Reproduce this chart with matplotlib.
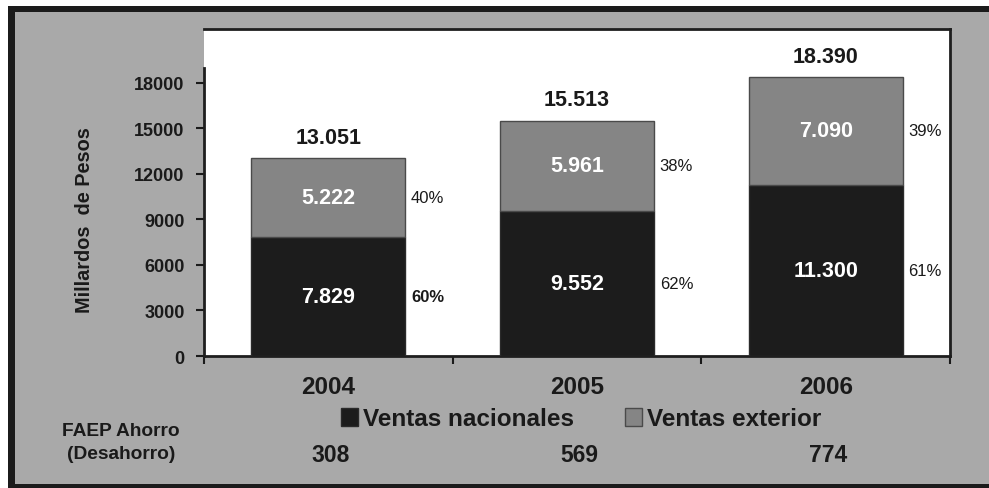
import matplotlib
matplotlib.use("Agg")
import matplotlib.pyplot as plt
from matplotlib.patches import Rectangle
from matplotlib.transforms import blended_transform_factory

# Data (miles de millones de pesos)
years = ["2004", "2005", "2006"]
ventas_nacionales = [7829, 9552, 11300]
ventas_exterior = [5222, 5961, 7090]
faep = ["308", "569", "774"]
y_ticks = [0, 3000, 6000, 9000, 12000, 15000, 18000]

plt.rcParams["font.family"] = ["Liberation Sans", "DejaVu Sans"]

W, H = 989, 489
fig = plt.figure(figsize=(W / 100, H / 100), dpi=100)
fig.patch.set_facecolor("white")

def fx(px):
    return px / W

def fy(py):
    return 1 - py / H

# Outer frame and grey panel
fig.add_artist(Rectangle((fx(8), 0), 1, fy(7), transform=fig.transFigure,
                         facecolor="#1b1b1b", edgecolor="none", zorder=0))
fig.add_artist(Rectangle((fx(15), fy(485)), 1, fy(13) - fy(485), transform=fig.transFigure,
                         facecolor="#a9a9a9", edgecolor="none", zorder=0))

ax = fig.add_axes([fx(204), fy(357), fx(950) - fx(204), fy(30) - fy(357)])
ax.set_facecolor("white")

dark = "#1c1c1c"
grey = "#858585"
txt = "#1a1a1a"
x = list(range(len(years)))
width = 0.62

b1 = ax.bar(x, ventas_nacionales, width, color=dark, edgecolor="#2a2a2a", linewidth=1,
            label="Ventas nacionales", zorder=3)
b2 = ax.bar(x, ventas_exterior, width, bottom=ventas_nacionales, color=grey,
            edgecolor="#4a4a4a", linewidth=1, label="Ventas exterior", zorder=3)

def miles(v):
    return f"{v:,}".replace(",", ".")

for i in x:
    nac = ventas_nacionales[i]
    ext = ventas_exterior[i]
    tot = nac + ext
    # values inside the segments
    ax.text(i, nac / 2, miles(nac), ha="center", va="center", color="white",
            fontsize=15.5, fontweight="bold", zorder=4)
    ax.text(i, nac + ext / 2, miles(ext), ha="center", va="center", color="white",
            fontsize=15.5, fontweight="bold", zorder=4)
    # totals above the bars
    ax.annotate(miles(tot), (i, tot), xytext=(0, 15), textcoords="offset points",
                ha="center", va="center", fontsize=15.5, fontweight="bold", color=txt)
    # shares to the right of each segment
    ax.annotate(f"{round(100 * nac / tot)}%", (i + width / 2, nac / 2), xytext=(4, 0),
                textcoords="offset points", ha="left", va="center", fontsize=12,
                fontweight="bold" if i == 0 else "normal", color=txt)
    ax.annotate(f"{round(100 * ext / tot)}%", (i + width / 2, nac + ext / 2), xytext=(4, 0),
                textcoords="offset points", ha="left", va="center", fontsize=12, color=txt)

ax.set_xlim(-0.5, 2.5)
ax.set_ylim(0, 21560)

# y axis
ax.set_yticks(y_ticks)
ax.set_yticklabels([str(t) for t in y_ticks])
ax.tick_params(axis="y", direction="out", length=6, width=1.5, pad=8,
               labelsize=13, labelcolor=txt, colors=txt)
for lab in ax.get_yticklabels():
    lab.set_fontweight("bold")

# x axis: ticks between categories, labels at centres
ax.set_xticks([-0.5, 0.5, 1.5, 2.5])
ax.set_xticklabels([])
ax.set_xticks(x, minor=True)
ax.set_xticklabels(years, minor=True)
ax.tick_params(axis="x", which="major", direction="out", length=6, width=1.5, colors=txt)
ax.tick_params(axis="x", which="minor", length=0, pad=14, labelsize=17.5, labelcolor=txt)
for lab in ax.get_xticklabels(minor=True):
    lab.set_fontweight("bold")

for side in ["left", "bottom", "top", "right"]:
    ax.spines[side].set_color("#1e1e1e")
    ax.spines[side].set_linewidth(2)
ax.spines["left"].set_bounds(0, 19000)

fig.text(fx(85), fy(220), "Millardos  de Pesos", rotation=90, ha="center", va="center",
         fontsize=14.3, fontweight="bold", color=txt)

leg = fig.legend(handles=[b1, b2], loc="center", bbox_to_anchor=(fx(581), fy(420)),
                 ncol=2, frameon=False, prop={"size": 17.5, "weight": "bold"},
                 handlelength=0.7, handleheight=0.7, handletextpad=0.2,
                 columnspacing=2.1, borderpad=0)
for t in leg.get_texts():
    t.set_color(txt)

fig.text(fx(121), fy(443), "FAEP Ahorro\n(Desahorro)", ha="center", va="center",
         fontsize=13.8, fontweight="bold", color=txt, linespacing=1.4)

tr = blended_transform_factory(ax.transData, fig.transFigure)
for i, v in zip(x, faep):
    ax.text(i + 0.01, fy(456), v, transform=tr, ha="center", va="center", fontsize=16.5,
            fontweight="bold", color=txt)

fig.savefig("out.png", dpi=100)
